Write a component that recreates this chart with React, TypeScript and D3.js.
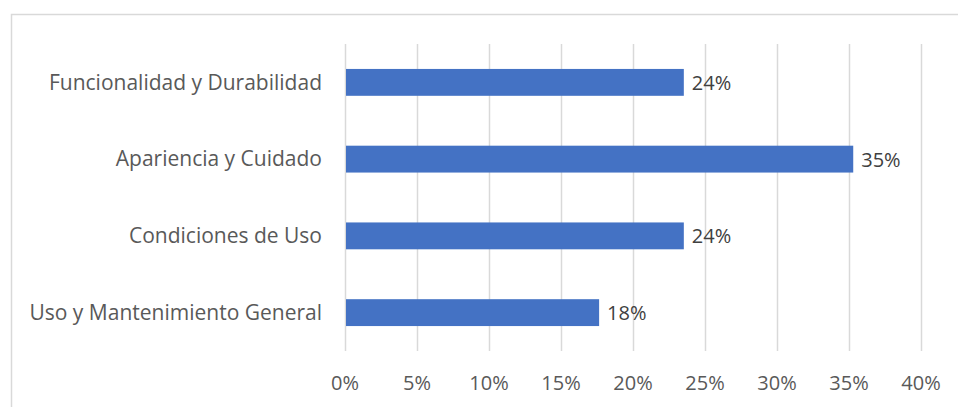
import React, { useEffect, useRef } from 'react';
import * as d3 from 'd3';

// Chart data
const categories = [
  'Funcionalidad y Durabilidad',
  'Apariencia y Cuidado',
  'Condiciones de Uso',
  'Uso y Mantenimiento General'
];
const shares = [4 / 17, 6 / 17, 4 / 17, 3 / 17];
const xTicks = [0, 0.05, 0.1, 0.15, 0.2, 0.25, 0.3, 0.35, 0.4];

const W = 958;
const H = 407;
const FONT = '"Open Sans", "Liberation Sans", sans-serif';
const FS = 20;

const App: React.FC = () => {
  const svgRef = useRef<SVGSVGElement>(null);

  useEffect(() => {
    if (!svgRef.current) return;
    const svg = d3.select(svgRef.current);
    svg.selectAll('*').remove();

    const margin = { left: 345, right: 37, top: 44, bottom: 56 };

    // outer chart frame
    svg.append('rect')
      .attr('x', 11.5)
      .attr('y', 14.5)
      .attr('width', W + 20)
      .attr('height', H + 20)
      .attr('fill', '#fff')
      .attr('stroke', '#d9d9d9')
      .attr('stroke-width', 1.5);

    const x = d3.scaleLinear()
      .domain([0, 0.4])
      .range([margin.left, W - margin.right]);

    const y = d3.scaleBand<string>()
      .domain(categories)
      .range([margin.top, H - margin.bottom])
      .paddingInner(0.65)
      .paddingOuter(0.325);

    // vertical gridlines
    svg.append('g')
      .selectAll('line')
      .data(xTicks)
      .join('line')
      .attr('x1', d => Math.round(x(d)) + 0.5)
      .attr('x2', d => Math.round(x(d)) + 0.5)
      .attr('y1', margin.top)
      .attr('y2', H - margin.bottom)
      .attr('stroke', '#d9d9d9')
      .attr('stroke-width', 1.5);

    // tick labels
    svg.append('g')
      .selectAll('text')
      .data(xTicks)
      .join('text')
      .attr('x', d => x(d))
      .attr('y', 390)
      .attr('text-anchor', 'middle')
      .attr('font-family', FONT)
      .attr('font-size', FS)
      .attr('fill', '#595959')
      .text(d => d3.format('.0%')(d));

    // bars
    svg.append('g')
      .selectAll('rect')
      .data(categories)
      .join('rect')
      .attr('x', x(0) + 1)
      .attr('y', d => y(d)!)
      .attr('width', (_, i) => x(shares[i]) - x(0) - 1)
      .attr('height', y.bandwidth())
      .attr('fill', '#4472c4');

    // category labels
    svg.append('g')
      .selectAll('text')
      .data(categories)
      .join('text')
      .attr('x', 322)
      .attr('y', d => y(d)! + y.bandwidth() / 2)
      .attr('dy', '0.35em')
      .attr('text-anchor', 'end')
      .attr('font-family', FONT)
      .attr('font-size', 21)
      .attr('fill', '#595959')
      .text(d => d);

    // value labels
    svg.append('g')
      .selectAll('text')
      .data(categories)
      .join('text')
      .attr('x', (_, i) => x(shares[i]) + 8)
      .attr('y', d => y(d)! + y.bandwidth() / 2)
      .attr('dy', '0.38em')
      .attr('font-family', FONT)
      .attr('font-size', FS)
      .attr('fill', '#404040')
      .text((_, i) => d3.format('.0%')(shares[i]));
  }, []);

  return (
    <div style={{ position: 'absolute', left: 0, top: 0, width: W, height: H, background: '#fff' }}>
      <svg ref={svgRef} width={W} height={H} style={{ display: 'block' }} />
    </div>
  );
};

export default App;
